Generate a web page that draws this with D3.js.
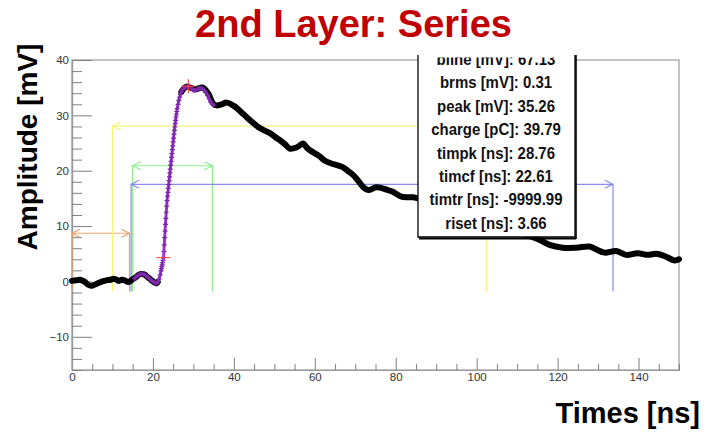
<!DOCTYPE html>
<html><head><meta charset="utf-8">
<script src="https://cdn.jsdelivr.net/npm/d3@7"></script>
<style>
html,body{margin:0;padding:0;background:#fff;}
svg{display:block;font-family:"Liberation Sans",Arial,sans-serif;}
</style></head>
<body><svg id="c" width="705" height="433"></svg>
<script>
// ---------- data ----------
const titleText = "2nd Layer: Series";
const xLabel = "Times [ns]";
const yLabel = "Amplitude [mV]";
const xMajorTicks = [0, 20, 40, 60, 80, 100, 120, 140];
const yMajorTicks = [-10, 0, 10, 20, 30, 40];

// waveform (black), before the fit window
const waveT1 = [0, 1, 2, 3, 4, 4.7, 5.5, 6.5, 7.5, 8.5, 9.5, 10.3, 11, 11.5, 12.3, 13, 14, 15, 15.5, 16, 16.5, 17, 17.5, 18, 18.5, 19, 19.5, 20, 20.5, 20.9, 21.2];
const waveV1 = [0.1, 0.2, 0.3, 0.0, -0.6, -0.8, -0.6, -0.3, 0.0, 0.2, 0.3, 0.5, 0.3, 0.1, 0.3, 0.2, -0.1, 0.4, 0.6, 0.9, 1.2, 1.35, 1.3, 1.2, 0.9, 0.6, 0.3, 0.0, -0.25, -0.35, -0.1];
// waveform (black), after the peak
const waveT2 = [27.0, 28.3, 30.4, 32.3, 33.7, 34.9, 35.7, 37.0, 38.2, 39.8, 41.5, 43.1, 44.5, 46.0, 47.5, 48.9, 50.2, 51.4, 52.6, 53.8, 55.5, 57.1, 58.0, 58.8, 61.2, 62.5, 64.1, 65.5, 67.0, 68.3, 69.5, 70.7, 71.9, 73.2, 75.2, 77.7, 79.3, 81.4, 84.3, 86.5, 90, 95, 100, 105, 110, 113, 115.6, 118.0, 121.3, 124.6, 127.9, 129.5, 131.6, 134.5, 136.9, 139.8, 142.3, 144.4, 146.4, 148.9, 150];
const waveV2 = [34.2, 35.2, 34.7, 35.0, 33.9, 32.1, 31.8, 32.0, 32.3, 31.8, 30.8, 29.7, 28.8, 27.9, 27.3, 26.8, 26.1, 25.5, 24.8, 24.0, 24.2, 24.9, 24.2, 23.7, 22.6, 21.8, 21.3, 21.0, 20.6, 19.9, 19.2, 18.2, 17.1, 16.5, 17.0, 16.6, 16.2, 15.3, 15.2, 14.8, 14.0, 12.8, 11.6, 10.3, 9.0, 8.2, 7.5, 6.6, 6.1, 6.1, 6.3, 5.8, 5.2, 5.5, 4.8, 5.1, 4.8, 5.0, 4.6, 3.8, 4.0];

// fitted pulse samples (purple, with markers)
const fitT = [15.4, 15.8, 16.2, 16.6, 17.0, 17.4, 17.8, 18.2, 18.6, 19.0, 19.4, 19.8, 20.2, 20.6, 20.9, 21.2, 21.5, 21.8, 22.0, 22.1, 22.2, 22.3, 22.4, 22.5, 22.6, 22.7, 22.8, 22.9, 23.0, 23.1, 23.2, 23.3, 23.4, 23.5, 23.6, 23.7, 23.8, 23.9, 24.0, 24.1, 24.2, 24.3, 24.4, 24.5, 24.6, 24.7, 24.8, 24.9, 25.0, 25.1, 25.2, 25.3, 25.4, 25.5, 25.6, 25.7, 25.8, 25.9, 26.0, 26.2, 26.4, 26.6, 26.8, 27.0, 27.3, 27.6, 28.0, 28.4, 28.76, 29.1, 29.5, 29.9, 30.3, 30.7, 31.1, 31.5, 31.9, 32.3, 32.7, 33.1, 33.5, 33.9, 34.3, 34.7, 35.0];
const fitV = [0.5, 0.8, 1.05, 1.25, 1.35, 1.32, 1.25, 1.1, 0.85, 0.6, 0.35, 0.1, -0.15, -0.3, -0.35, -0.1, 0.4, 1.2, 1.9, 2.3, 2.7, 3.0, 3.4, 3.8, 4.3, 5.4, 6.6, 7.9, 9.1, 10.3, 11.4, 12.5, 13.6, 14.6, 15.4, 16.1, 16.8, 17.5, 18.2, 18.9, 19.6, 20.3, 21.0, 21.7, 22.4, 23.1, 23.8, 24.5, 25.2, 25.9, 26.6, 27.3, 27.9, 28.5, 29.1, 29.7, 30.2, 30.7, 31.2, 32.0, 32.7, 33.3, 33.8, 34.2, 34.6, 34.9, 35.1, 35.2, 35.26, 35.2, 34.9, 34.6, 34.5, 34.6, 34.8, 34.9, 34.9, 34.8, 34.5, 34.1, 33.6, 33.0, 32.4, 32.0, 31.8];

// red crosses: peak time / constant-fraction time
const crossT = [28.76, 22.61];
const crossV = [35.26, 4.3];

// window arrows
const arrowNames = ["baseline", "charge", "fit", "tail"];
const arrowStart = [0, 10.0, 15.0, 14.6];
const arrowEnd = [14.2, 102.4, 34.7, 133.7];
const arrowLevel = [8.7, 28.05, 20.9, 17.55];
const arrowFoot = -1.8;

// stats box text
const statsLines = ["bline [mV]: 67.13", "brms [mV]: 0.31", "peak [mV]: 35.26", "charge [pC]: 39.79", "timpk [ns]: 28.76", "timcf [ns]: 22.61", "timtr [ns]: -9999.99", "riset [ns]: 3.66"];

// ---------- styles ----------
const arrowColors = ["#e8a470", "#f4f47a", "#8cee8c", "#8a8aee"];

// ---------- drawing ----------
const svg = d3.select("#c");
const L = 72, R = 679, T = 60, B = 370;
const x = d3.scaleLinear().domain([0, 150]).range([L, R]);
const y = d3.scaleLinear().domain([-16, 40]).range([B, T]);

// title
svg.append("text").attr("x", 353.5).attr("y", 37).attr("text-anchor", "middle")
  .attr("font-size", 38).attr("font-weight", "bold").attr("fill", "#c00000").text(titleText);

// frame
svg.append("rect").attr("x", L).attr("y", T).attr("width", R - L).attr("height", B - T)
  .attr("fill", "none").attr("stroke", "#9a9a9a").attr("stroke-width", 1.2);

// axes
const xMinor = d3.range(0, 151, 5).filter(v => v % 20 !== 0);
const yMinor = d3.range(-16, 41, 2).filter(v => v % 10 !== 0);
const gx = svg.append("g").attr("transform", `translate(0,${B})`);
gx.call(d3.axisBottom(x).tickValues(xMajorTicks).tickSize(-12).tickSizeOuter(0).tickPadding(3).tickFormat(d3.format("d")));
const gxm = svg.append("g").attr("transform", `translate(0,${B})`);
gxm.call(d3.axisBottom(x).tickValues(xMinor).tickSize(-6).tickSizeOuter(0).tickFormat(""));
const gy = svg.append("g").attr("transform", `translate(${L},0)`);
gy.call(d3.axisLeft(y).tickValues(yMajorTicks).tickSize(-20).tickSizeOuter(0).tickPadding(3).tickFormat(d3.format("d")));
const gym = svg.append("g").attr("transform", `translate(${L},0)`);
gym.call(d3.axisLeft(y).tickValues(yMinor).tickSize(-10).tickSizeOuter(0).tickFormat(""));
[gx, gxm, gy, gym].forEach(g => {
  g.selectAll(".domain").attr("stroke", "#9a9a9a").attr("stroke-width", 1.2);
  g.selectAll(".tick line").attr("stroke", "#808080").attr("stroke-width", 1);
  g.selectAll(".tick text").attr("fill", "#333").attr("font-size", 11.5)
    .attr("font-family", "'Liberation Sans',Arial,sans-serif");
});

// arrows
const ga = svg.append("g").attr("fill", "none").attr("stroke-width", 1.2);
arrowNames.forEach((n, i) => {
  const x1 = x(arrowStart[i]), x2 = x(arrowEnd[i]), yy = y(arrowLevel[i]), yf = y(arrowFoot);
  const c = arrowColors[i];
  const g = ga.append("g").attr("stroke", c);
  g.append("line").attr("x1", x1).attr("x2", x2).attr("y1", yy).attr("y2", yy);
  g.append("line").attr("x1", x1).attr("x2", x1).attr("y1", yy).attr("y2", yf);
  g.append("line").attr("x1", x2).attr("x2", x2).attr("y1", yy).attr("y2", yf);
  g.append("path").attr("d", `M${x1 + 8},${yy - 4}L${x1},${yy}L${x1 + 8},${yy + 4}`);
  g.append("path").attr("d", `M${x2 - 8},${yy - 4}L${x2},${yy}L${x2 - 8},${yy + 4}`);
});

// waveform
const line = d3.line().x(d => x(d[0])).y(d => y(d[1])).curve(d3.curveCatmullRom.alpha(0.5));
const seg1 = waveT1.map((t, i) => [t, waveV1[i]]);
const seg2 = waveT2.map((t, i) => [t, waveV2[i]]);
[seg1, seg2].forEach(s => svg.append("path").datum(s).attr("d", line)
  .attr("fill", "none").attr("stroke", "#000").attr("stroke-width", 6)
  .attr("stroke-linejoin", "round").attr("stroke-linecap", "round"));

// fit
const fit = fitT.map((t, i) => [t, fitV[i]]);
svg.append("path").datum(fit).attr("d", line).attr("fill", "none")
  .attr("stroke", "#a035d5").attr("stroke-width", 3);
const gm = svg.append("g").attr("stroke", "#7a28a8").attr("stroke-width", 1.2);
fit.forEach(d => {
  const px = x(d[0]), py = y(d[1]);
  gm.append("path").attr("d", `M${px - 2.5},${py}H${px + 2.5}M${px},${py - 2.5}V${py + 2.5}`);
});

// red crosses
const gc = svg.append("g").attr("stroke", "#ff3b3b").attr("stroke-width", 1);
crossT.forEach((t, i) => {
  const px = x(t), py = y(crossV[i]);
  gc.append("path").attr("d", `M${px - 7},${py}H${px + 7}M${px},${py - 7}V${py + 7}`);
});

// stats box
const bx1 = 418, bx2 = 575, by1 = 55, by2 = 237;
svg.append("defs").append("clipPath").attr("id", "bc").append("rect")
  .attr("x", bx1).attr("y", 57.5).attr("width", bx2 - bx1).attr("height", by2 - 57.5);
svg.append("rect").attr("x", bx1).attr("y", by1).attr("width", bx2 - bx1).attr("height", by2 - by1).attr("fill", "#fff");
svg.append("path").attr("d", `M${bx1},${by1}V${by2}H${bx2}V${by1}`).attr("fill", "none").attr("stroke", "#000").attr("stroke-width", 1.3);
svg.append("path").attr("d", `M${bx1 + 1},${by2 + 1.5}H${bx2 + 1}`).attr("stroke", "#000").attr("stroke-width", 2.2);
svg.append("path").attr("d", `M${bx2 + 1},${by1}V${by2 + 2}`).attr("stroke", "#000").attr("stroke-width", 1.6);
const gs = svg.append("g").attr("clip-path", "url(#bc)");
statsLines.forEach((s, i) => {
  gs.append("text").attr("transform", `translate(496,${65 + i * 23.4}) scale(0.88,1)`)
    .attr("text-anchor", "middle").attr("font-size", 17).attr("font-weight", "bold")
    .attr("fill", "#111").text(s);
});

// axis titles
svg.append("text").attr("transform", "translate(37,147) rotate(-90)").attr("text-anchor", "middle")
  .attr("font-size", 28).attr("font-weight", "bold").attr("fill", "#000").text(yLabel);
svg.append("text").attr("x", 700).attr("y", 423).attr("text-anchor", "end")
  .attr("font-size", 29).attr("font-weight", "bold").attr("fill", "#000").text(xLabel);
</script></body></html>
